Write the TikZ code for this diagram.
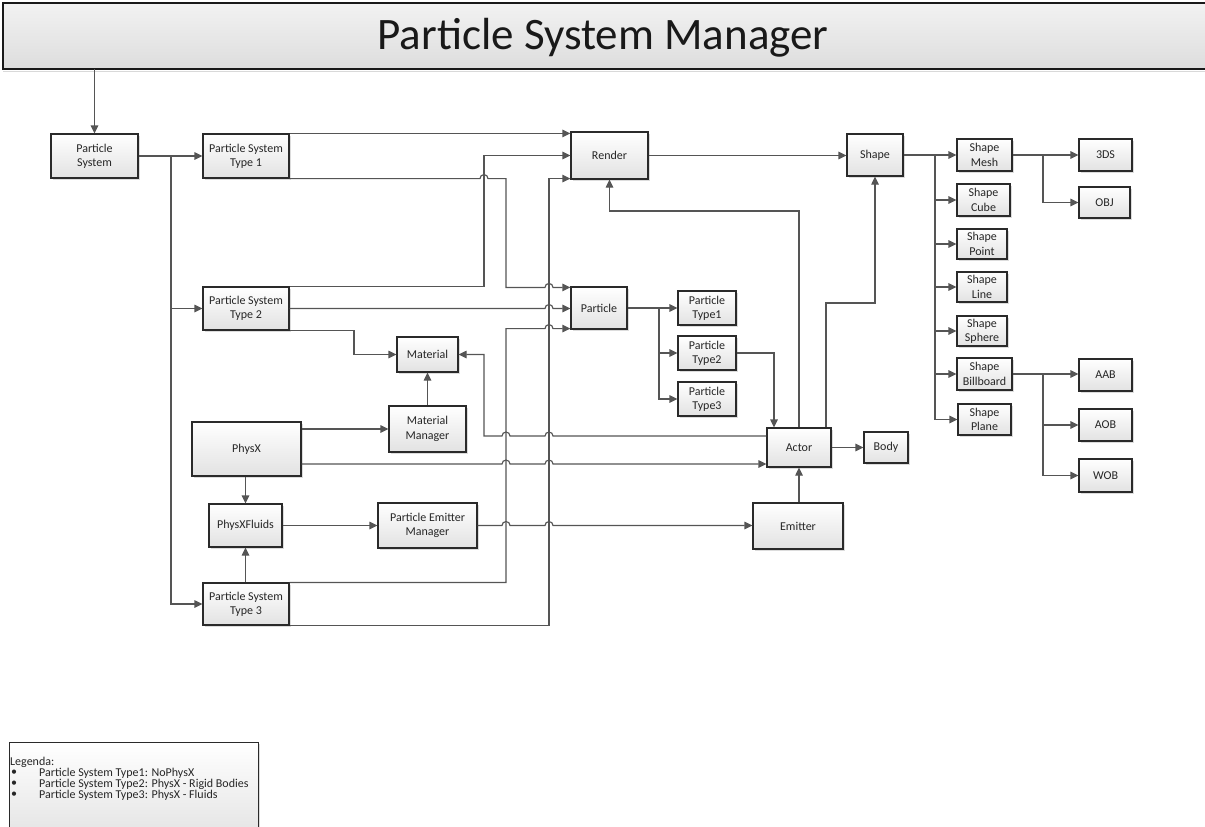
\documentclass[tikz,border=0pt]{standalone}
\usepackage{fontspec}
\setmainfont{Carlito}
\usetikzlibrary{arrows.meta,calc,shadows}
\definecolor{linec}{HTML}{555555}
\definecolor{borderc}{HTML}{2A2A2A}
\definecolor{boxbot}{HTML}{E2E2E2}
\definecolor{titlebot}{HTML}{DDDDDD}
\definecolor{titletop}{HTML}{F2F2F2}
\tikzset{
  box/.style={draw=borderc, line width=1.15pt, top color=white, bottom color=boxbot,
    inner sep=0pt, align=center, font=\fontsize{12}{14.3}\selectfont, text=black!85,
    drop shadow={shadow xshift=1.6pt, shadow yshift=-1.6pt, opacity=0.28, fill=gray}},
  titlebox/.style={draw=none, top color=titletop, bottom color=titlebot, inner sep=0pt},
  titleedge/.style={draw=black!90, line width=1.5pt},
  myarrow/.style={draw=linec, line width=1.15pt, -{Triangle[length=8pt,width=7.5pt]}},
  legtext/.style={anchor=west, inner sep=0pt, font=\fontsize{12}{11.3}\selectfont, text=black!85},
}
\newcommand\mybox[6]{\node[box, minimum width={#4-#2}, minimum height={#5-#3}] (#1) at ({(#2+#4)/2},{-(#3+#5)/2}) {#6};}
\begin{document}
\begin{tikzpicture}[x=1pt,y=1pt]
\clip (0,0) rectangle (1205,-827);
\useasboundingbox (0,0) rectangle (1205,-827);
% title
\fill[gray, opacity=0.3] (3,-70.5) rectangle (1205,-72);
\node[titlebox, minimum width=1230, minimum height=66] (title) at (618,-36) {};
\draw[titleedge] (title.north east) -- (title.north west) -- (title.south west) -- (title.south east);
\node[inner sep=0pt, font=\fontsize{45}{54}\selectfont, text=black!90] (titletext) at (603,-38) {Particle System Manager};
% nodes
\mybox{ps}{51}{134}{138}{178}{Particle\\System}
\mybox{pst1}{203}{134}{289}{178}{Particle System\\Type 1}
\mybox{pst2}{203}{287}{289}{330}{Particle System\\Type 2}
\mybox{pst3}{203}{583}{289}{625}{Particle System\\Type 3}
\mybox{render}{571}{132}{648}{179}{Render}
\mybox{particle}{571}{287}{627}{329}{Particle}
\mybox{material}{397}{337}{458}{372}{Material}
\mybox{matman}{389}{406}{466}{452}{Material\\Manager}
\mybox{physx}{192}{422}{301}{476}{PhysX}
\mybox{physxfl}{209}{504}{282}{547}{PhysXFluids}
\mybox{pem}{378}{503}{477}{548}{Particle Emitter\\Manager}
\mybox{emitter}{753}{503}{843}{549}{Emitter}
\mybox{actor}{767}{428}{831}{467}{Actor}
\mybox{body}{864}{432}{908}{463}{Body}
\mybox{pt1}{678}{291}{736}{325}{Particle\\Type1}
\mybox{pt2}{678}{336}{736}{370}{Particle\\Type2}
\mybox{pt3}{678}{382}{736}{416}{Particle\\Type3}
\mybox{shape}{847}{134}{903}{176}{Shape}
\mybox{smesh}{957}{139}{1012}{171}{Shape\\Mesh}
\mybox{scube}{957}{184}{1010}{216}{Shape\\Cube}
\mybox{spoint}{957}{229}{1007}{259}{Shape\\Point}
\mybox{sline}{957}{272}{1007}{302}{Shape\\Line}
\mybox{ssphere}{957}{316}{1007}{346}{Shape\\Sphere}
\mybox{sbill}{957}{358}{1012}{390}{Shape\\Billboard}
\mybox{splane}{958}{404}{1011}{435}{Shape\\Plane}
\mybox{sdds}{1079}{139}{1132}{171}{3DS}
\mybox{sobj}{1079}{187}{1130}{218}{OBJ}
\mybox{saab}{1079}{359}{1132}{391}{AAB}
\mybox{saob}{1079}{409}{1132}{441}{AOB}
\mybox{swob}{1079}{459}{1132}{492}{WOB}
% legend
\node[box, font=\normalsize, minimum width=249, minimum height=100, anchor=north west] (legend) at (9,-742) {};
\node[legtext] (lg0) at (10,-762) {Legenda:};
\node[legtext] (b1) at (11,-773) {•};
\node[legtext] (lg1) at (39,-773) {Particle System Type1: NoPhysX};
\node[legtext] (b2) at (11,-784) {•};
\node[legtext] (lg2) at (39,-784) {Particle System Type2: PhysX - Rigid Bodies};
\node[legtext] (b3) at (11,-795) {•};
\node[legtext] (lg3) at (39,-795) {Particle System Type3: PhysX - Fluids};
% helper coordinates
\coordinate (xA) at (484,0);
\coordinate (xB) at (506,0);
\coordinate (xC) at (549,0);
\coordinate (xD) at (354,0);
\coordinate (xE) at (774,0);
\coordinate (xF) at (799,0);
\coordinate (xG) at (826,0);
\coordinate (xH) at (659,0);
\coordinate (xI) at (935,0);
\coordinate (xJ) at (1043,0);
\coordinate (yA) at (0,-211);
\coordinate (yB) at (0,-303);
\coordinate (yC) at (0,-464);
\coordinate (yD) at (0,-436);
\coordinate (bA) at (171,-156);
\coordinate (pA) at ($(particle.north west)+(0,-1)$);
\coordinate (pC) at ($(particle.south west)+(0,1)$);
\coordinate (rA) at ($(render.north west)+(0,-2)$);
\coordinate (rC) at ($(render.south west)+(0,1)$);
% connectors
\draw[myarrow] (title.south -| ps.north) -- (ps.north);
\draw[myarrow] (ps.east) -- (pst1.west);
\draw[myarrow] (bA) |- (pst2.west);
\draw[myarrow] (bA) |- (pst3.west);
\draw[myarrow] (pst1.north east |- rA) -- (rA);
\draw[myarrow] (pst2.north east) -| (xA |- render.west) -- (render.west);
\draw[myarrow] (pst1.south east) -- ($(xA |- pst1.south east)+(-4,0)$) arc[start angle=180,end angle=0,radius=4pt]
  -- (xB |- pst1.south east) -- (xB |- pA) -- ($(xC |- pA)+(-4,0)$) arc[start angle=180,end angle=0,radius=4pt] -- (pA);
\draw[myarrow] (pst2.east) -- ($(xC |- pst2.east)+(-4,0)$) arc[start angle=180,end angle=0,radius=4pt] -- (particle.west |- pst2.east);
\draw[myarrow] (pst3.north east) -| (xB |- pC) -- ($(xC |- pC)+(-4,0)$) arc[start angle=180,end angle=0,radius=4pt] -- (pC);
\draw[myarrow] (pst3.south east) -| (xC |- rC) -- (rC);
\draw[myarrow] (pst2.south east) -| (xD |- material.west) -- (material.west);
\draw[myarrow] (matman.north) -- (matman.north |- material.south);
\draw[myarrow] (physx.east |- matman.west) -- (matman.west);
\draw[myarrow] (physx.east |- yC) -- ($(xB |- yC)+(-4,0)$) arc[start angle=180,end angle=0,radius=4pt]
  -- ($(xC |- yC)+(-4,0)$) arc[start angle=180,end angle=0,radius=4pt] -- (actor.west |- yC);
\draw[myarrow] (actor.west |- yD) -- ($(xC |- yD)+(4,0)$) arc[start angle=0,end angle=180,radius=4pt]
  -- ($(xB |- yD)+(4,0)$) arc[start angle=0,end angle=180,radius=4pt] -- (xA |- yD) |- (material.east);
\draw[myarrow] (physxfl.north |- physx.south) -- (physxfl.north);
\draw[myarrow] (physxfl.south |- pst3.north) -- (physxfl.south);
\draw[myarrow] (physxfl.east) -- (pem.west |- physxfl.east);
\draw[myarrow] (pem.east) -- ($(xB |- pem.east)+(-4,0)$) arc[start angle=180,end angle=0,radius=4pt]
  -- ($(xC |- pem.east)+(-4,0)$) arc[start angle=180,end angle=0,radius=4pt] -- (emitter.west |- pem.east);
\draw[myarrow] (actor.south |- emitter.north) -- (actor.south);
\draw[myarrow] (actor.east) -- (body.west |- actor.east);
\draw[myarrow] (pt2.east) -| (xE |- actor.north);
\draw[myarrow] (xF |- actor.north) |- (render.south |- yA) -- (render.south);
\draw[myarrow] (xG |- actor.north) |- (shape.south |- yB) -- (shape.south);
\draw[myarrow] (render.east) -- (shape.west |- render.east);
\draw[myarrow] (particle.east) -- (pt1.west |- particle.east);
\draw[myarrow] (xH |- particle.east) |- (pt2.west);
\draw[myarrow] (xH |- particle.east) |- (pt3.west);
\draw[myarrow] (shape.east) -- (smesh.west |- shape.east);
\foreach \n in {scube,spoint,sline,ssphere,sbill,splane}{
  \draw[myarrow] (xI |- shape.east) |- (\n.west);
}
\draw[myarrow] (smesh.east) -- (sdds.west |- smesh.east);
\draw[myarrow] (xJ |- smesh.east) |- (sobj.west);
\draw[myarrow] (sbill.east) -- (saab.west |- sbill.east);
\draw[myarrow] (xJ |- sbill.east) |- (saob.west);
\draw[myarrow] (xJ |- sbill.east) |- (swob.west);
\end{tikzpicture}
\end{document}
